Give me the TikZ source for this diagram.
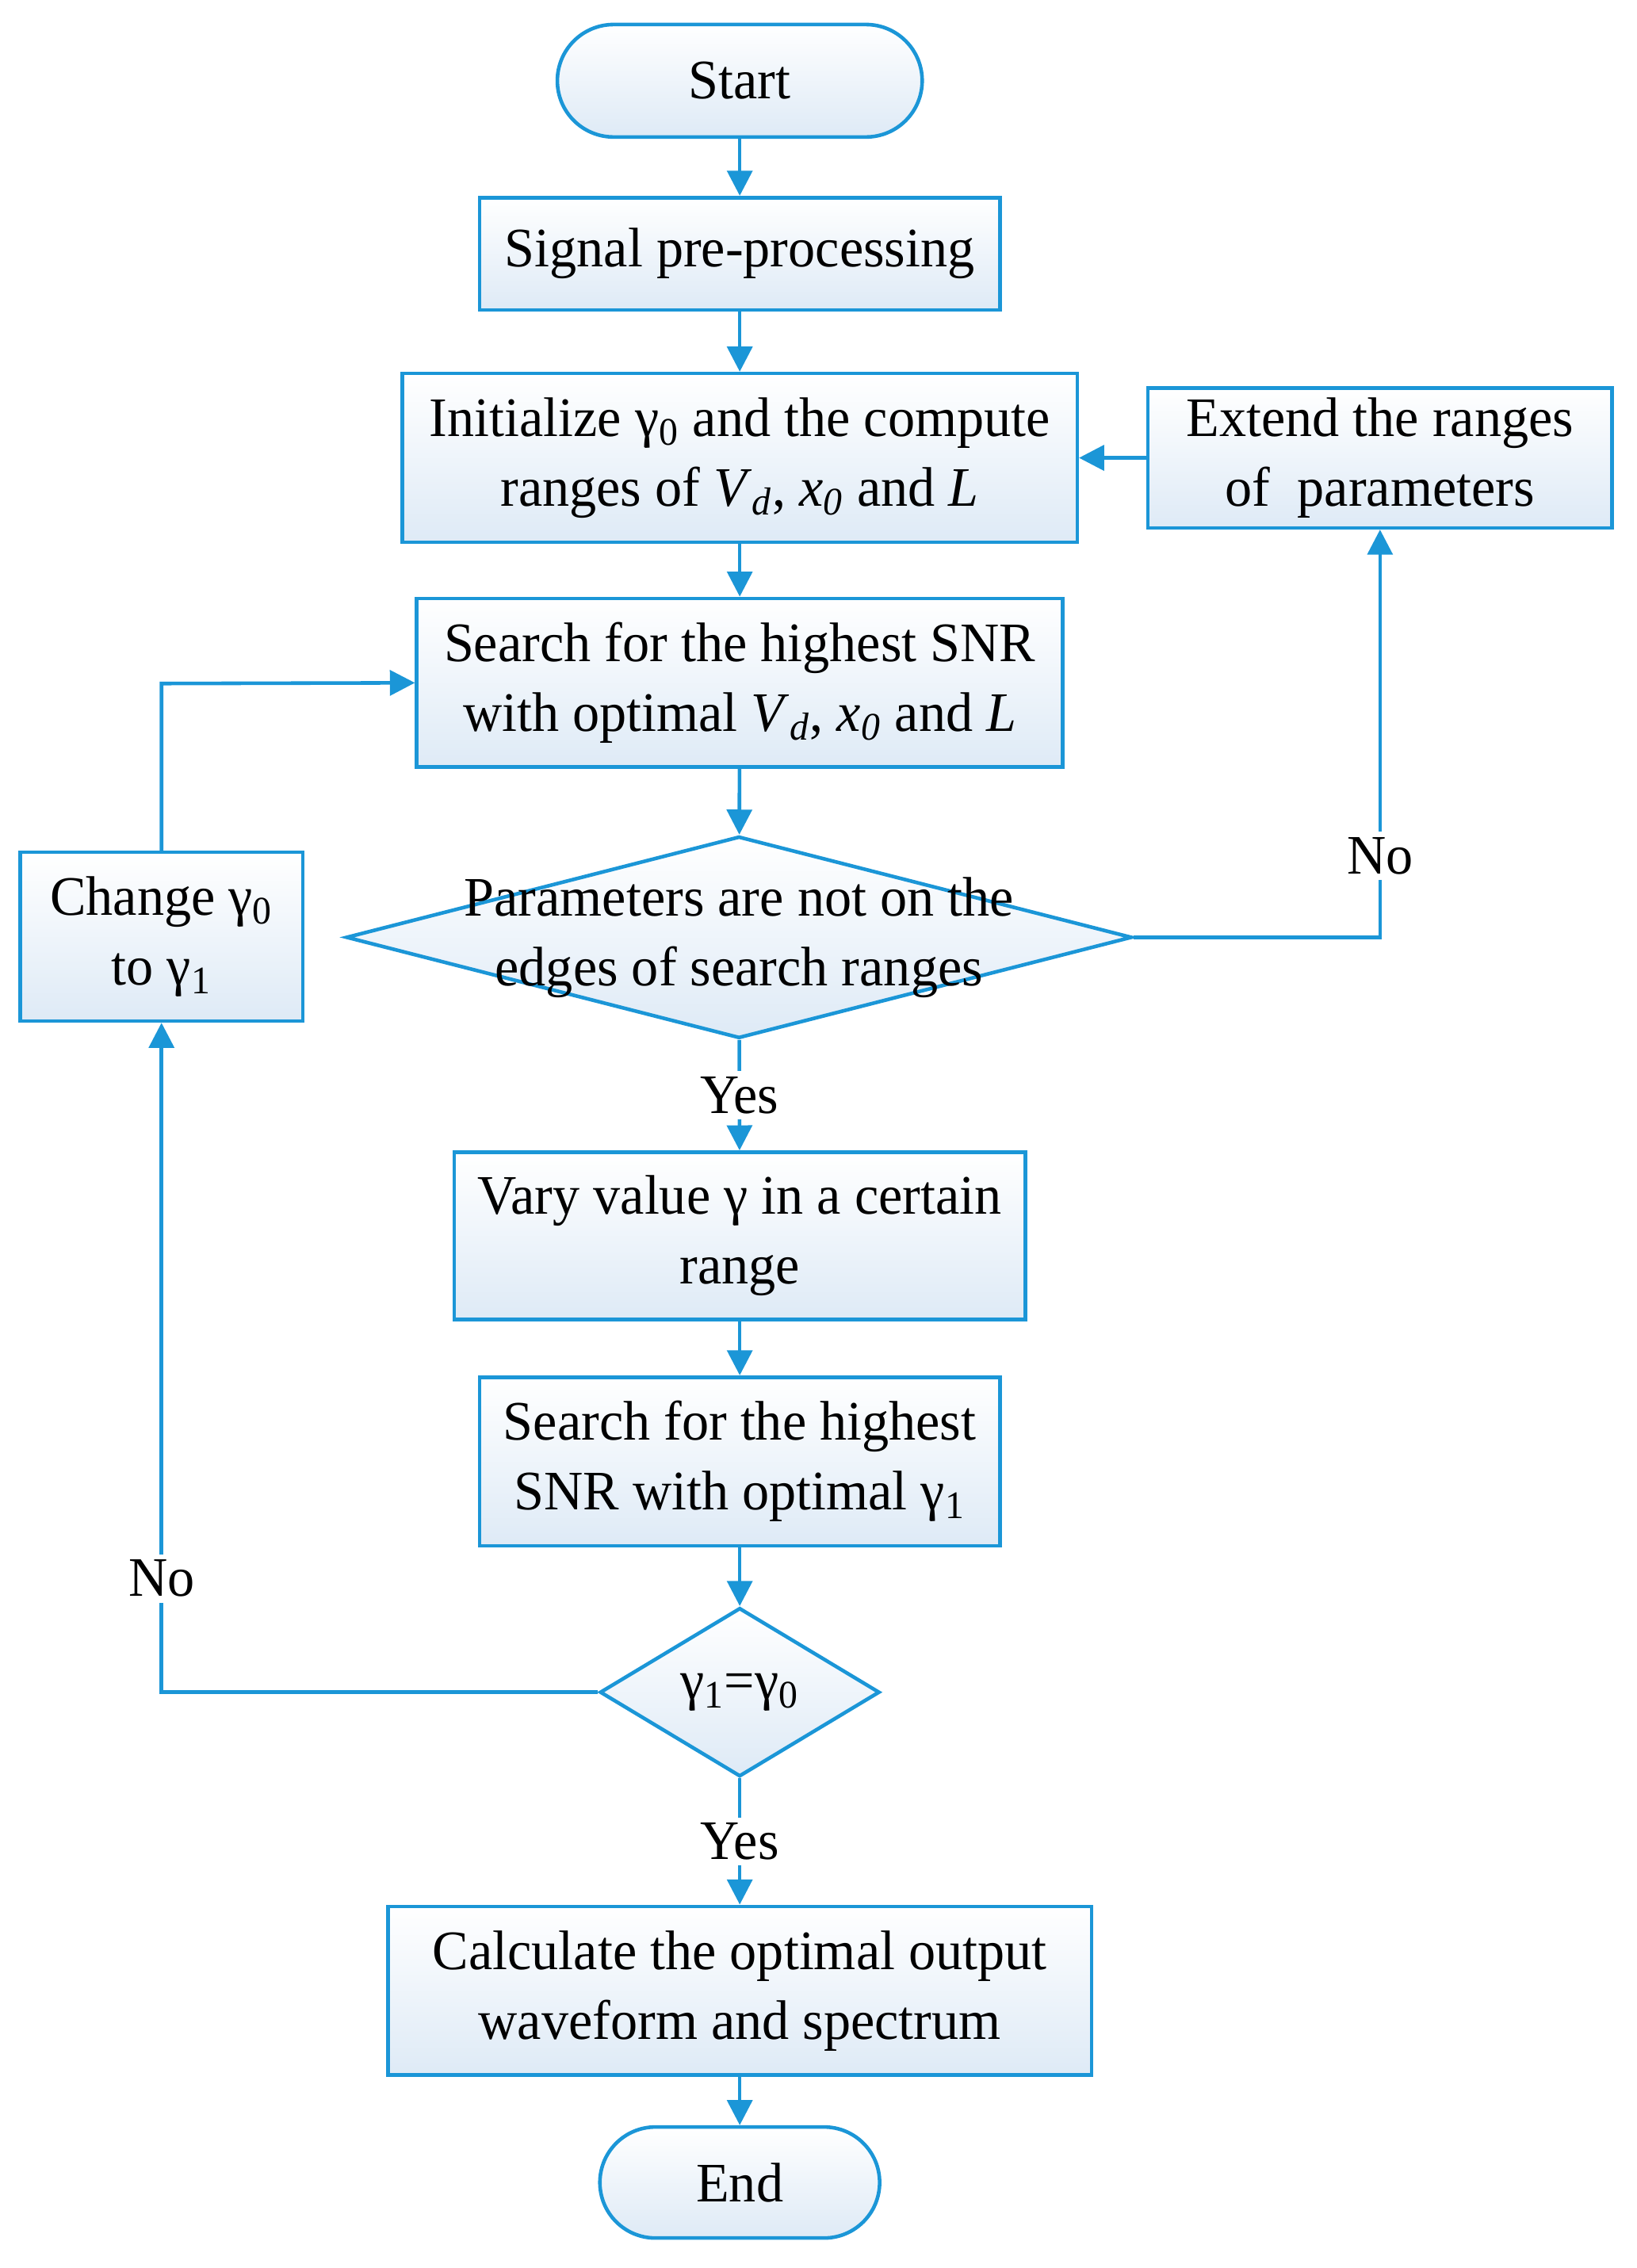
\documentclass[tikz,border=0pt]{standalone}
\usepackage{fontspec}
\setmainfont{Liberation Serif}[FakeStretch=0.97]
\usetikzlibrary{shapes.geometric,arrows.meta}
\definecolor{ln}{RGB}{27,150,215}
\definecolor{fl}{RGB}{222,234,246}
\newcommand{\gs}[1]{γ\textsubscript{#1}}
\newcommand{\vd}{\textit{V}\textsubscript{\textit{d}}}
\newcommand{\xo}{\textit{x}\textsubscript{\textit{0}}}
\begin{document}
\begin{tikzpicture}[x=0.01819cm,y=-0.01819cm,
  every node/.style={font=\fontsize{20}{25}\selectfont,align=center,inner sep=0pt},
  bx/.style 2 args={draw=ln,line width=1.3pt,top color=white,bottom color=fl,minimum width=#1*0.01819cm,minimum height=#2*0.01819cm},
  term/.style 2 args={bx={#1}{#2},rounded corners=#2*0.00909cm},
  dia/.style 2 args={draw=ln,line width=1.3pt,top color=white,bottom color=fl,diamond,minimum width=#1*0.01819cm,minimum height=#2*0.01819cm},
  ar/.style={draw=ln,line width=1.3pt,-{Triangle[length=9pt,width=9pt]}},
  lbl/.style={fill=white,inner sep=2pt}]
\useasboundingbox (0,0) rectangle (1135.2,1572.8);
\node[term={253}{78}] (start) at (513,56) {Start};
\node[bx={361}{78}] (sig) at (513,176) {Signal pre-processing};
\node[bx={468}{117}] (init) at (513,317.5) {Initialize \gs{0} and the compute\\ranges of \vd, \xo\ and \textit{L}};
\node[bx={322}{97}] (ext) at (957,317.5) {Extend the ranges\\of\ \ parameters};
\node[bx={448}{117}] (s1) at (513,473.5) {Search for the highest SNR\\with optimal \vd, \xo\ and \textit{L}};
\node[dia={545}{140}] (d1) at (512.5,650) {};
\node at (d1) {Parameters are not on the\\edges of search ranges};
\node[bx={196}{117}] (chg) at (112,649.5) {Change \gs{0}\\to \gs{1}};
\node[bx={396}{116}] (vary) at (513,857) {Vary value γ in a certain\\range};
\node[bx={361}{117}] (s2) at (513,1013.5) {Search for the highest\\SNR with optimal \gs{1}};
\node[dia={194}{117}] (d2) at (513,1173.5) {};
\node at (d2) {\gs{1}=\gs{0}};
\node[bx={488}{117}] (calc) at (513,1380.5) {Calculate the optimal output\\waveform and spectrum};
\node[term={194}{77}] (end) at (513,1513.5) {End};
\coordinate (c1) at (957,650);
\coordinate (c2) at (112,1173.5);
\coordinate (c3) at (112,474);
\draw[ar] (start) -- (sig);
\draw[ar] (sig) -- (init);
\draw[ar] (init) -- (s1);
\draw[ar] (s1) -- (d1);
\draw[ar] (d1) -- node[lbl]{Yes} (vary);
\draw[ar] (vary) -- (s2);
\draw[ar] (s2) -- (d2);
\draw[ar] (d2) -- node[lbl]{Yes} (calc);
\draw[ar] (calc) -- (end);
\draw[ar] (d1.east) -- (c1) -- node[lbl,pos=0.2]{No} (ext.south);
\draw[ar] (ext.west) -- (init.east);
\draw[ar] (d2.west) -- (c2) -- node[lbl,pos=0.17]{No} (chg.south);
\draw[ar] (chg.north) -- (c3) -- (s1.west);
\end{tikzpicture}
\end{document}
